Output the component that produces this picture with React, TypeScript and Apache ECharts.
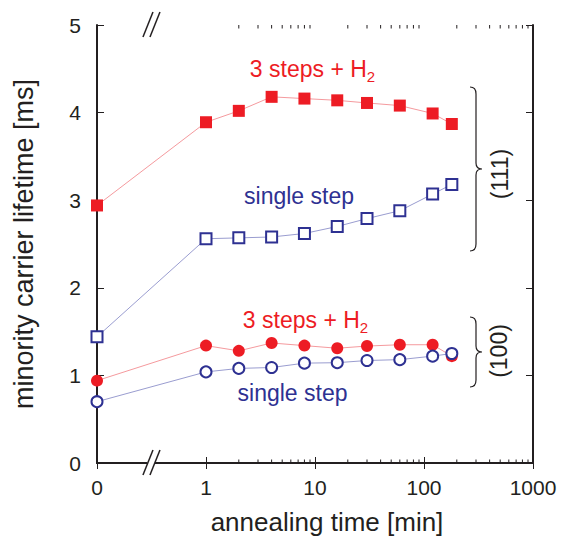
import React, { useEffect, useRef } from "react";
import * as echarts from "echarts";

// ---- data ----
const annealTimes = [0, 1, 2, 4, 8, 16, 30, 60, 120, 180]; // min (0 = as-grown)
const lifetime111H2 = [2.94, 3.89, 4.02, 4.18, 4.16, 4.14, 4.11, 4.08, 3.99, 3.87];
const lifetime111Single = [1.44, 2.56, 2.57, 2.58, 2.62, 2.7, 2.79, 2.88, 3.07, 3.18];
const lifetime100H2 = [0.94, 1.34, 1.28, 1.37, 1.34, 1.31, 1.335, 1.35, 1.35, 1.22];
const lifetime100Single = [0.7, 1.04, 1.08, 1.09, 1.14, 1.145, 1.17, 1.18, 1.22, 1.25];
const minorTickValues = [2, 3, 4, 5, 6, 7, 8, 9, 20, 30, 40, 50, 60, 70, 80, 90, 200, 300, 400, 500, 600, 700, 800, 900];
const ZERO_POS = 0.1; // where "0" sits on the broken log axis
const BREAK_POS = 0.316; // axis break location
const Y_MIN = 0;
const Y_MAX = 5;

const RED = "#ed1c24";
const RED_LINE = "#f59a9e";
const BLUE = "#2e3192";
const BLUE_LINE = "#9a9dd0";
const INK = "#231f20";
const FONT = "'Liberation Sans', Arial, Helvetica, sans-serif";

function braceD(h: number) {
  const m = h / 2;
  return `M0,0 C4,0 6,2 6,7 L6,${m - 6} C6,${m - 2} 8,${m} 12,${m} C8,${m} 6,${m + 2} 6,${m + 6} L6,${h - 7} C6,${h - 2} 4,${h} 0,${h}`;
}

let registered = false;
function registerShapes() {
  if (registered) return;
  registered = true;
  echarts.graphic.registerShape("brace111", echarts.graphic.extendPath(braceD(164), {}));
  echarts.graphic.registerShape("brace100", echarts.graphic.extendPath(braceD(70), {}));
}

const toX = (t: number) => (t === 0 ? ZERO_POS : t);
const pairs = (vals: number[]) => annealTimes.map((t, i) => [toX(t), vals[i]]);

export default function App() {
  const ref = useRef<HTMLDivElement>(null);
  useEffect(() => {
    if (!ref.current) return;
    registerShapes();
    const chart = echarts.init(ref.current, undefined, { renderer: "svg" });

    const annotText = (x: number, y: number, color: string, text: string, rich = false) => ({
      type: "text",
      x,
      y,
      style: {
        text,
        fill: color,
        fontFamily: FONT,
        fontSize: 23,
        align: "center",
        verticalAlign: "middle",
        ...(rich
          ? {
              rich: {
                m: { fontSize: 23, fontFamily: FONT, fill: color, lineHeight: 30, verticalAlign: "middle" },
                s: { fontSize: 15, fontFamily: FONT, fill: color, lineHeight: 14, verticalAlign: "bottom" },
              },
            }
          : {}),
      },
    });

    const option: any = {
      animation: false,
      backgroundColor: "#fff",
      grid: { left: 97, right: 28, top: 25, bottom: 74, containLabel: false, outerBoundsMode: "none" },
      xAxis: [
        {
          type: "log",
          logBase: 10,
          min: ZERO_POS,
          max: 1000,
          name: "annealing time [min]",
          nameLocation: "middle",
          nameGap: 46,
          nameTextStyle: { fontSize: 26, fontFamily: FONT, color: INK, padding: [0, 0, 0, 24] },
          axisLine: { show: true, lineStyle: { color: INK, width: 2 } },
          axisTick: { show: true, inside: true, length: 6, lineStyle: { color: INK, width: 1 } },
          minorTick: { show: false },
          splitLine: { show: false },
          axisLabel: {
            fontSize: 21,
            fontFamily: FONT,
            color: INK,
            margin: 14,
            formatter: (v: number) => (v < 0.5 ? "0" : String(Math.round(v))),
          },
        },
        {
          type: "log",
          logBase: 10,
          min: ZERO_POS,
          max: 1000,
          position: "top",
          axisLine: { show: true, lineStyle: { color: INK, width: 2 } },
          axisTick: { show: true, inside: true, length: 6, lineStyle: { color: INK, width: 1 } },
          splitLine: { show: false },
          axisLabel: { show: false },
        },
      ],
      yAxis: [
        {
          type: "value",
          min: Y_MIN,
          max: Y_MAX,
          interval: 1,
          name: "minority carrier lifetime [ms]",
          nameLocation: "middle",
          nameGap: 60,
          nameTextStyle: { fontSize: 27, fontFamily: FONT, color: INK },
          axisLine: { show: true, lineStyle: { color: INK, width: 2 } },
          axisTick: { show: true, inside: true, length: 7, lineStyle: { color: INK, width: 1 } },
          splitLine: { show: false },
          axisLabel: { fontSize: 21, fontFamily: FONT, color: INK, margin: 16 },
        },
        {
          type: "value",
          min: Y_MIN,
          max: Y_MAX,
          interval: 1,
          position: "right",
          axisLine: { show: true, lineStyle: { color: INK, width: 2 } },
          axisTick: { show: true, inside: true, length: 7, lineStyle: { color: INK, width: 1 } },
          splitLine: { show: false },
          axisLabel: { show: false },
        },
      ],
      series: [
        {
          type: "custom",
          name: "minorTicks",
          xAxisIndex: 0,
          yAxisIndex: 0,
          silent: true,
          clip: false,
          data: minorTickValues.map((v) => [v, Y_MIN]),
          renderItem: (_p: any, api: any) => {
            const v = api.value(0);
            const b = api.coord([v, Y_MIN]);
            const t = api.coord([v, Y_MAX]);
            return {
              type: "group",
              children: [
                { type: "line", shape: { x1: b[0], y1: b[1], x2: b[0], y2: b[1] - 3.5 }, style: { stroke: INK, lineWidth: 1 } },
                { type: "line", shape: { x1: t[0], y1: t[1], x2: t[0], y2: t[1] + 3.5 }, style: { stroke: INK, lineWidth: 1 } },
              ],
            };
          },
        },
        {
          type: "custom",
          name: "axisBreak",
          xAxisIndex: 0,
          yAxisIndex: 0,
          silent: true,
          clip: false,
          z: 10,
          data: [[BREAK_POS, Y_MIN]],
          renderItem: (_p: any, api: any) => {
            const v = api.value(0);
            const mk = (c: number[]) => {
              const cx = c[0];
              const cy = c[1];
              return [
                { type: "rect", shape: { x: cx - 4, y: cy - 2.5, width: 7.5, height: 5 }, style: { fill: "#fff" } },
                { type: "line", shape: { x1: cx - 8.5, y1: cy + 12, x2: cx + 1.5, y2: cy - 13 }, style: { stroke: INK, lineWidth: 1.5 } },
                { type: "line", shape: { x1: cx - 1.5, y1: cy + 12, x2: cx + 8.5, y2: cy - 13 }, style: { stroke: INK, lineWidth: 1.5 } },
              ];
            };
            return {
              type: "group",
              children: [...mk(api.coord([v, Y_MIN])), ...mk(api.coord([v, Y_MAX]))],
            };
          },
        },
        {
          type: "line",
          name: "(111) 3 steps + H2",
          data: pairs(lifetime111H2),
          symbol: "rect",
          symbolSize: 12,
          clip: false,
          lineStyle: { color: RED_LINE, width: 1 },
          itemStyle: { color: RED },
          z: 3,
        },
        {
          type: "line",
          name: "(111) single step",
          data: pairs(lifetime111Single),
          symbol: "rect",
          symbolSize: 11,
          clip: false,
          lineStyle: { color: BLUE_LINE, width: 1 },
          itemStyle: { color: "#fff", borderColor: BLUE, borderWidth: 2 },
          z: 3,
        },
        {
          type: "line",
          name: "(100) 3 steps + H2",
          data: pairs(lifetime100H2),
          symbol: "circle",
          symbolSize: 12,
          clip: false,
          lineStyle: { color: RED_LINE, width: 1 },
          itemStyle: { color: RED },
          z: 3,
        },
        {
          type: "line",
          name: "(100) single step",
          data: pairs(lifetime100Single),
          symbol: "circle",
          symbolSize: 11,
          clip: false,
          lineStyle: { color: BLUE_LINE, width: 1 },
          itemStyle: { color: "#fff", borderColor: BLUE, borderWidth: 2 },
          z: 4,
        },
      ],
      graphic: [
        annotText(312.5, 68.5, RED, "{m|3 steps + H}{s|2}", true),
        annotText(299, 195.5, BLUE, "single step"),
        annotText(305.5, 319.5, RED, "{m|3 steps + H}{s|2}", true),
        annotText(292.5, 392.5, BLUE, "single step"),
        { type: "brace111", x: 470, y: 87, style: { fill: "none", stroke: INK, lineWidth: 1.2 } },
        { type: "brace100", x: 470, y: 317, style: { fill: "none", stroke: INK, lineWidth: 1.2 } },
        {
          type: "text",
          x: 500,
          y: 174,
          rotation: Math.PI / 2,
          style: { text: "(111)", fill: INK, fontSize: 23, fontFamily: FONT, align: "center", verticalAlign: "middle" },
        },
        {
          type: "text",
          x: 499,
          y: 351,
          rotation: Math.PI / 2,
          style: { text: "(100)", fill: INK, fontSize: 23, fontFamily: FONT, align: "center", verticalAlign: "middle" },
        },
      ],
    };
    chart.setOption(option);
    return () => chart.dispose();
  }, []);
  return <div ref={ref} style={{ width: 561, height: 537, position: "absolute", left: 0, top: 0 }} />;
}
